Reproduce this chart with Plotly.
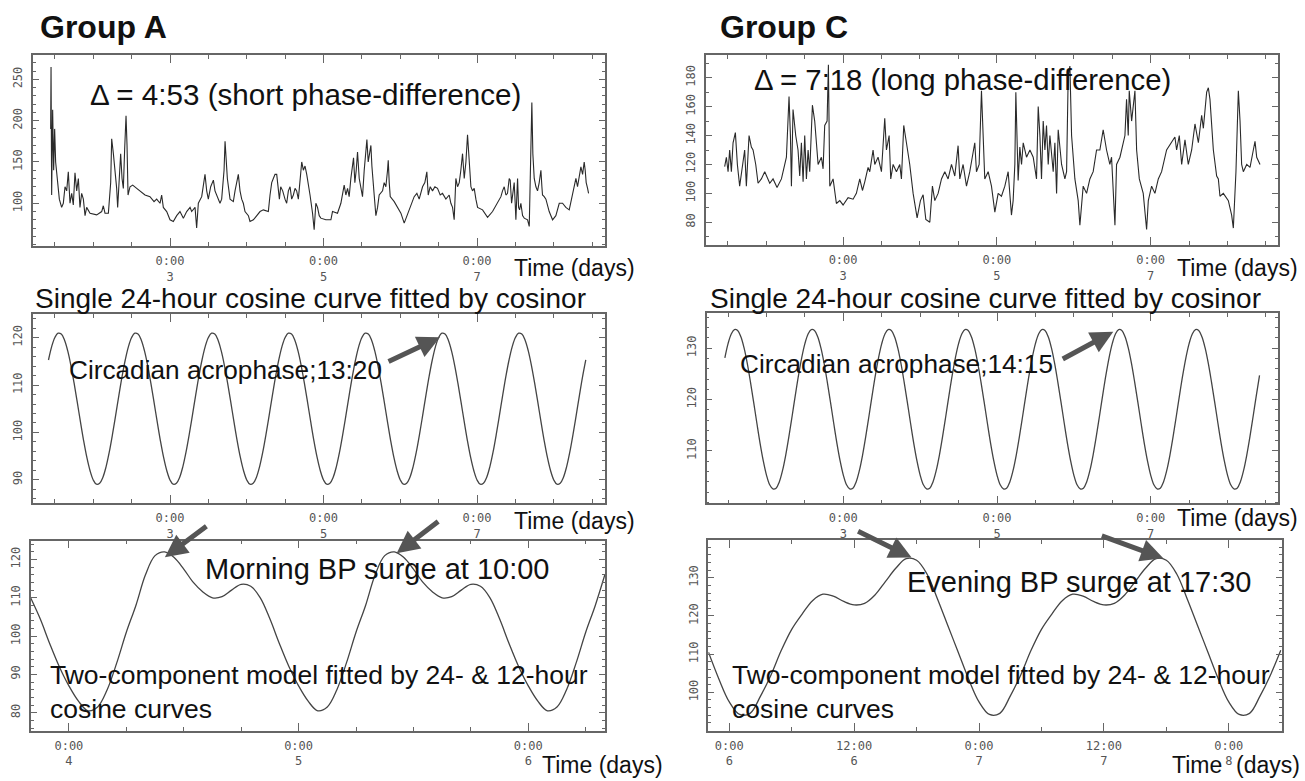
import plotly.graph_objects as go

# ---------------- data ----------------
# Raw ambulatory SBP, Group A (time in days, value mmHg)
A_RAW_T = [
1.445,1.450,1.458,1.471,1.484,1.497,1.510,1.532,1.558,1.588,
1.610,1.632,1.654,1.675,1.697,1.719,1.740,1.762,1.784,1.806,
1.827,1.849,1.871,1.893,1.914,1.958,2.045,2.110,2.131,2.153,
2.197,2.227,2.240,2.262,2.283,2.305,2.318,2.340,2.357,2.375,
2.392,2.409,2.418,2.427,2.440,2.453,2.479,2.514,2.566,2.609,
2.674,2.739,2.792,2.826,2.870,2.891,2.913,2.957,3.000,3.043,
3.087,3.130,3.174,3.217,3.261,3.282,3.326,3.347,3.369,3.413,
3.443,3.456,3.478,3.499,3.530,3.565,3.586,3.608,3.651,3.673,
3.704,3.717,3.730,3.747,3.782,3.825,3.847,3.869,3.890,3.912,
3.934,3.955,3.977,4.021,4.042,4.086,4.129,4.173,4.216,4.281,
4.303,4.325,4.346,4.368,4.390,4.412,4.425,4.442,4.468,4.498,
4.520,4.542,4.564,4.585,4.607,4.629,4.650,4.672,4.694,4.716,
4.737,4.759,4.781,4.802,4.824,4.857,4.878,4.900,4.922,4.944,
4.965,5.030,5.096,5.117,5.182,5.226,5.269,5.291,5.313,5.334,
5.356,5.391,5.408,5.426,5.443,5.465,5.486,5.508,5.530,5.552,
5.565,5.582,5.595,5.617,5.630,5.647,5.660,5.682,5.704,5.725,
5.769,5.790,5.812,5.834,5.843,5.856,5.869,5.921,5.964,6.008,
6.051,6.086,6.116,6.147,6.181,6.216,6.246,6.290,6.320,6.346,
6.364,6.390,6.420,6.451,6.485,6.520,6.550,6.594,6.637,6.659,
6.681,6.702,6.716,6.724,6.746,6.768,6.789,6.811,6.833,6.855,
6.876,6.889,6.907,6.920,6.941,6.963,6.985,7.007,7.072,7.137,
7.202,7.267,7.311,7.332,7.354,7.376,7.397,7.419,7.432,7.450,
7.467,7.484,7.497,7.506,7.519,7.528,7.541,7.554,7.571,7.593,
7.615,7.658,7.680,7.693,7.701,7.714,7.727,7.745,7.767,7.788,
7.810,7.832,7.845,7.853,7.875,7.897,7.940,7.984,8.027,8.071,
8.114,8.157,8.201,8.244,8.266,8.288,8.309,8.331,8.353,8.375,
8.396,8.409,8.422,8.440,8.453]
A_RAW_V = [
190,265,110,213,140,190,150,125,105,95,
100,120,115,138,100,112,98,137,115,130,
95,112,105,85,95,88,86,90,97,88,
88,125,178,160,140,118,95,130,160,130,
118,165,185,206,170,110,120,122,118,115,
110,108,102,105,100,110,95,90,80,78,
85,90,82,90,95,90,95,70,100,108,
125,135,115,105,120,128,115,110,100,105,
140,175,150,130,105,102,115,125,135,115,
105,100,90,85,78,80,85,90,92,90,
110,125,130,135,135,120,105,120,115,105,
100,115,120,105,110,118,115,105,130,150,
140,145,135,125,110,88,68,100,95,85,
82,80,80,90,88,100,122,110,118,108,
130,155,125,140,162,130,120,108,140,160,
177,150,158,170,145,130,110,85,95,110,
115,125,120,140,152,125,108,102,95,88,
76,85,92,98,108,112,105,120,125,138,
110,120,115,120,118,110,112,105,110,100,
95,80,110,130,120,125,140,160,130,150,
183,165,150,120,115,118,105,95,92,83,
90,100,108,115,120,110,112,130,128,100,
115,125,100,80,110,130,95,92,100,85,
82,80,72,150,180,222,160,130,120,115,
125,140,120,110,108,105,90,80,85,100,
100,95,92,110,120,130,120,130,144,135,
150,140,125,118,112]

# Raw ambulatory SBP, Group C
C_RAW_T = [
1.460,1.482,1.504,1.525,1.547,1.569,1.599,1.625,1.655,1.690,
1.720,1.742,1.777,1.807,1.829,1.864,1.894,1.937,1.981,2.046,
2.089,2.141,2.198,2.263,2.297,2.315,2.328,2.349,2.384,2.414,
2.436,2.458,2.480,2.501,2.523,2.545,2.566,2.601,2.631,2.675,
2.718,2.740,2.761,2.792,2.809,2.827,2.870,2.913,2.957,3.000,
3.065,3.130,3.173,3.217,3.252,3.282,3.325,3.347,3.390,3.412,
3.455,3.499,3.542,3.564,3.599,3.620,3.651,3.694,3.737,3.759,
3.789,3.824,3.867,3.911,3.963,4.006,4.041,4.076,4.128,4.162,
4.193,4.236,4.280,4.323,4.366,4.410,4.453,4.496,4.518,4.561,
4.605,4.648,4.692,4.713,4.735,4.770,4.800,4.822,4.843,4.887,
4.930,4.974,5.017,5.060,5.104,5.147,
5.190,5.212,5.234,5.247,5.277,5.299,5.321,5.343,5.386,5.430,
5.473,5.516,5.538,5.560,5.581,5.603,5.625,5.646,5.668,5.690,
5.712,5.733,5.755,5.777,5.798,5.820,5.842,5.885,5.907,5.928,
5.950,5.972,6.015,6.058,6.080,6.123,6.167,6.210,6.253,6.297,
6.340,6.383,6.427,6.470,6.492,6.536,6.557,6.601,6.644,6.666,
6.687,6.709,6.722,6.753,6.796,6.818,6.853,6.904,6.948,6.970,
7.013,7.056,7.100,7.143,7.208,7.273,7.316,7.338,7.373,7.404,
7.447,7.490,7.534,7.577,7.621,7.664,7.686,7.729,7.751,7.772,
7.816,7.859,7.881,7.902,7.946,8.011,8.054,8.076,8.110,8.141,
8.163,8.184,8.206,8.250,8.293,8.336,8.358,8.380,8.423]
C_RAW_V = [
118.5,125,115,130,115,135,142,120,105,120,
130,105,140,132,130,120,107,110,115,107,
110,104,110,125,167,140,105,158,140,130,
112,135,108,140,110,130,115,161,150,120,
125,117,147,150,189,105,110,93,95,92,
97,96,100,110,102,108,118,115,130,120,
125,115,152,130,140,110,120,115,120,110,
147,135,120,100,83,95,99,82,80,105,
95,100,110,115,110,120,112,133,110,120,
105,115,130,135,115,120,171,145,110,115,
105,87,100,98,105,115,
85,95,120,170,109,132,120,135,125,130,
125,110,160,140,110,150,130,147,120,140,
125,115,135,100,144,130,120,110,115,181,
188,140,110,95,78,105,100,110,115,130,
130,144,130,120,125,78,120,125,135,140,
165,140,171,150,171,130,110,100,75,95,
105,100,110,115,130,135,139,130,140,120,
137,120,130,148,135,154,145,170,173,165,
130,112,110,98,100,95,85,76,115,171,
150,120,115,120,118,130,136,125,120]

assert len(A_RAW_T) == len(A_RAW_V)
assert len(C_RAW_T) == len(C_RAW_V)

# Fitted single 24-h cosine, value at each clock hour 0..23
A_COS_HOURLY = [89.96,89.06,89.26,90.50,92.74,95.82,99.53,103.61,107.78,111.77,115.29,118.12,
                120.04,120.94,120.76,119.50,117.26,114.17,110.44,106.39,102.22,98.22,94.71,91.90]
C_COS_HOURLY = [105.3,103.4,102.6,102.75,103.97,106.15,109.15,112.77,116.75,120.81,124.70,128.13,
                130.89,132.76,133.64,133.46,132.23,130.05,127.04,123.40,119.46,115.39,111.49,108.07]
# Two-component (24 h + 12 h) model, value at each clock hour 0..23
A_TWO_HOURLY = [87,83,80.5,81.5,86,93,101,108,116,121,122,120.5,
                117.5,114,111.5,110,110.3,112,113.5,113,110,104.5,98,92]
C_TWO_HOURLY = [97.5,94.2,94.5,99,104.5,111,116.5,120.5,124,125.7,125.2,123.8,
                122.9,123.3,125.5,129,132.5,135,134.6,131,124.5,117.5,110.5,103.5]

# time spans (absolute hours from day 0, 0:00)
A_COS_HOURS = list(range(34, 203))
C_COS_HOURS = list(range(35, 203))
A_TWO_HOURS = list(range(92, 153))
C_TWO_HOURS = list(range(142, 198))

def hourly_series(hours, profile):
    return [h / 24 for h in hours], [profile[h % 24] for h in hours]

A_COS_T, A_COS_V = hourly_series(A_COS_HOURS, A_COS_HOURLY)
C_COS_T, C_COS_V = hourly_series(C_COS_HOURS, C_COS_HOURLY)
A_TWO_T, A_TWO_V = hourly_series(A_TWO_HOURS, A_TWO_HOURLY)
C_TWO_T, C_TWO_V = hourly_series(C_TWO_HOURS, C_TWO_HOURLY)

DAY_TICKS = [3, 5, 7]
DAY_TEXT = ["0:00<br>3", "0:00<br>5", "0:00<br>7"]
A3_TICKS = [4, 5, 6]
A3_TEXT = ["0:00<br>4", "0:00<br>5", "0:00<br>6"]
C3_TICKS = [6, 6.5, 7, 7.5, 8]
C3_TEXT = ["0:00<br>6", "12:00<br>6", "0:00<br>7", "12:00<br>7", "0:00<br>8"]

# ---------------- figure ----------------
W, H = 1305, 781
def px(x): return x / W
def py(y): return 1 - y / H

TICKFONT = dict(family="DejaVu Sans Mono", size=12, color="#555")
AXC = "#666"

panels = [
    dict(t=A_RAW_T, v=A_RAW_V, xd=(33, 605), yd=(55, 246), xr=(1.215, 8.667), yr=(48.3, 279.4),
         xt=DAY_TICKS, xtt=DAY_TEXT, xm=0.5, yt=[100, 150, 200, 250], ym=10, spline=False),
    dict(t=A_COS_T, v=A_COS_V, xd=(33, 605), yd=(314, 503), xr=(1.215, 8.667), yr=(85.1, 125),
         xt=DAY_TICKS, xtt=DAY_TEXT, xm=0.5, yt=[90, 100, 110, 120], ym=2, spline=True),
    dict(t=A_TWO_T, v=A_TWO_V, xd=(31, 605), yd=(540.7, 730.7), xr=(3.835, 6.334), yr=(75.3, 124.9),
         xt=A3_TICKS, xtt=A3_TEXT, xm=0.25, yt=[80, 90, 100, 110, 120], ym=2, spline=True),
    dict(t=C_RAW_T, v=C_RAW_V, xd=(706, 1277.7), yd=(55, 245), xr=(1.217, 8.653), yr=(64.3, 195.7),
         xt=DAY_TICKS, xtt=DAY_TEXT, xm=0.5, yt=[80, 100, 120, 140, 160, 180], ym=10, spline=False),
    dict(t=C_COS_T, v=C_COS_V, xd=(706.7, 1277.7), yd=(313.3, 503.3), xr=(1.222, 8.653), yr=(99.8, 136.8),
         xt=DAY_TICKS, xtt=DAY_TEXT, xm=0.5, yt=[110, 120, 130], ym=2, spline=True),
    dict(t=C_TWO_T, v=C_TWO_V, xd=(708.3, 1281.7), yd=(540, 730.7), xr=(5.916, 8.212), yr=(89.95, 139.9),
         xt=C3_TICKS, xtt=C3_TEXT, xm=0.25, yt=[100, 110, 120, 130], ym=2, spline=True),
]

fig = go.Figure()
layout = dict(width=W, height=H, margin=dict(l=0, r=0, t=0, b=0),
              paper_bgcolor="white", plot_bgcolor="white", showlegend=False)

for i, p in enumerate(panels, start=1):
    xa = "x" if i == 1 else f"x{i}"
    ya = "y" if i == 1 else f"y{i}"
    line = dict(color="#2a2a2a", width=1.1)
    if p["spline"]:
        line.update(shape="spline", smoothing=1, color="#444", width=1.3)
    fig.add_trace(go.Scatter(x=p["t"], y=p["v"], mode="lines", line=line,
                             xaxis=xa, yaxis=ya, hoverinfo="skip"))
    xkey = "xaxis" if i == 1 else f"xaxis{i}"
    ykey = "yaxis" if i == 1 else f"yaxis{i}"
    layout[xkey] = dict(domain=[px(p["xd"][0]), px(p["xd"][1])], range=list(p["xr"]),
                        anchor=ya, showgrid=False, zeroline=False,
                        showline=True, linecolor=AXC, linewidth=1.5, mirror="ticks",
                        ticks="inside", ticklen=8, tickwidth=1.2, tickcolor=AXC,
                        tickmode="array", tickvals=p["xt"], ticktext=p["xtt"],
                        tickfont=TICKFONT, ticklabelstandoff=3,
                        minor=dict(tickmode="linear", tick0=0, dtick=p["xm"], ticks="inside",
                                   ticklen=4, tickwidth=1, tickcolor=AXC, showgrid=False))
    layout[ykey] = dict(domain=[py(p["yd"][1]), py(p["yd"][0])], range=list(p["yr"]),
                        anchor=xa, showgrid=False, zeroline=False,
                        showline=True, linecolor=AXC, linewidth=1.5, mirror="ticks",
                        ticks="inside", ticklen=6, tickwidth=1.2, tickcolor=AXC,
                        tickmode="array", tickvals=p["yt"], tickangle=-90,
                        tickfont=TICKFONT, ticklabelstandoff=4,
                        minor=dict(tickmode="linear", tick0=0, dtick=p["ym"], ticks="inside",
                                   ticklen=3, tickwidth=1, tickcolor=AXC, showgrid=False))

fig.update_layout(**layout)

ARIAL = "Liberation Sans, Arial, sans-serif"
def text(s, x, y, size, bold=False, yanchor="middle"):
    fig.add_annotation(text=f"<b>{s}</b>" if bold else s, x=px(x), y=py(y), xref="paper", yref="paper",
                       xanchor="left", yanchor=yanchor, showarrow=False, align="left",
                       font=dict(family=ARIAL, size=size, color="#111"))

text("Group A", 38, 27, 32, bold=True)
text("Group C", 718, 27, 32, bold=True)
text("Δ = 4:53 (short phase-difference)", 88, 95, 29.6)
text("Δ = 7:18 (long phase-difference)", 752, 80, 29.3)
text("Single 24-hour cosine curve fitted by cosinor", 33, 298, 28)
text("Single 24-hour cosine curve fitted by cosinor", 708, 298, 28)
text("Circadian acrophase;13:20", 67, 370, 26.2)
text("Circadian acrophase;14:15", 738, 364, 26.2)
text("Morning BP surge at 10:00", 203, 569, 29)
text("Evening BP surge at 17:30", 905, 582, 29)
text("Two-component model fitted by 24- &amp; 12-hour<br>cosine curves", 48, 692, 26.5)
text("Two-component model fitted by 24- &amp; 12-hour<br>cosine curves", 730, 692, 26.5)
for (x, y) in [(512, 268), (1175, 268), (512, 521), (1175, 518), (540, 765)]:
    text("Time (days)", x, y, 23)
# bottom-right panel: the "8" tick label sits between the two words
text("Time", 1170, 765, 23)
text("(days)", 1234, 765, 23)

# arrows: head at curve point (data coords), tail offset in pixels
ARROWS = [
    ("x2", "y2", 6.518, 120.1, -53, 25),
    ("x5", "y5", 6.513, 133.2, -52, 28),
    ("x3", "y3", 4.418, 120.6, 43, -32),
    ("x3", "y3", 5.427, 121.6, 43, -33),
    ("x6", "y6", 6.730, 135.3, -55, -27),
    ("x6", "y6", 7.738, 135.1, -63, -23),
]
for xr_, yr_, x, y, ax, ay in ARROWS:
    fig.add_annotation(x=x, y=y, xref=xr_, yref=yr_, ax=ax, ay=ay, axref="pixel", ayref="pixel",
                       text="", showarrow=True, arrowhead=2, arrowsize=0.9, arrowwidth=5,
                       arrowcolor="#555", standoff=0)

fig.write_html("out.html")
